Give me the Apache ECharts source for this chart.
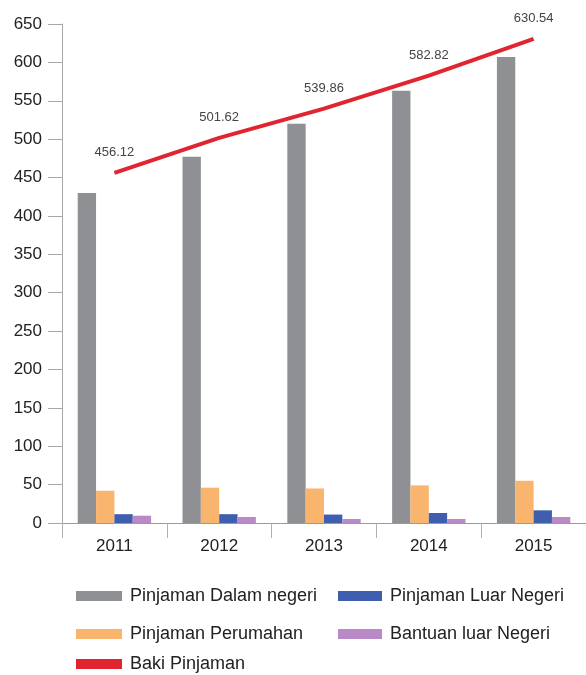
<!DOCTYPE html>
<html>
<head>
<meta charset="utf-8">
<script src="https://cdn.jsdelivr.net/npm/echarts@6/dist/echarts.min.js"></script>
<style>html,body{margin:0;padding:0;background:#fff}#c{width:586px;height:675px}</style>
</head>
<body>
<div id="c"></div>
<script>
var categories = ['2011', '2012', '2013', '2014', '2015'];
var dalamNegeri = [430, 477, 520, 563, 607];
var perumahan = [42, 46, 45, 49, 55];
var luarNegeri = [11.5, 11.5, 11, 13, 16.5];
var bantuan = [9.5, 7.8, 5.2, 5.2, 7.8];
var bakiPinjaman = [456.12, 501.62, 539.86, 582.82, 630.54];
var yTicks = [0, 650, 50];

var font = '"Liberation Sans", Arial, sans-serif';
var chart = echarts.init(document.getElementById('c'), null, {renderer: 'canvas'});
var barBase = {type: 'bar', barGap: '0%', barCategoryGap: '30%'};
function leg(name, left, top, w) {
  return {left: left, top: top, padding: 0, orient: 'horizontal', itemWidth: w, itemHeight: 10, itemGap: 0,
    textStyle: {fontSize: 18, color: '#222', fontFamily: font, padding: [0, 0, 0, 3]},
    data: [{name: name, icon: 'rect'}]};
}
chart.setOption({
  animation: false,
  textStyle: {fontFamily: font},
  grid: {left: 62, right: 0, top: 24, bottom: 152, containLabel: false},
  xAxis: {
    type: 'category', data: categories,
    axisLine: {lineStyle: {color: '#9a9a9a', width: 1}},
    axisTick: {show: true, length: 15, lineStyle: {color: '#b0b0b0'}},
    axisLabel: {color: '#222', fontSize: 17, margin: 15, fontFamily: font}
  },
  yAxis: {
    type: 'value', min: yTicks[0], max: yTicks[1], interval: yTicks[2],
    splitLine: {show: false},
    axisLine: {show: true, lineStyle: {color: '#a8a8a8', width: 1}},
    axisTick: {show: true, length: 14, lineStyle: {color: '#a8a8a8'}},
    axisLabel: {color: '#222', fontSize: 17, margin: 20, fontFamily: font}
  },
  legend: [
    leg('Pinjaman Dalam negeri', 76, 587, 46),
    leg('Pinjaman Perumahan', 76, 625, 46),
    leg('Baki Pinjaman', 76, 655, 46),
    leg('Pinjaman Luar Negeri', 338, 587, 44),
    leg('Bantuan luar Negeri', 338, 625, 44)
  ],
  series: [
    Object.assign({}, barBase, {name: 'Pinjaman Dalam negeri', data: dalamNegeri, itemStyle: {color: '#8f9093'}}),
    Object.assign({}, barBase, {name: 'Pinjaman Perumahan', data: perumahan, itemStyle: {color: '#f9b46e'}}),
    Object.assign({}, barBase, {name: 'Pinjaman Luar Negeri', data: luarNegeri, itemStyle: {color: '#3f5fae'}}),
    Object.assign({}, barBase, {name: 'Bantuan luar Negeri', data: bantuan, itemStyle: {color: '#b98ac6'}}),
    {type: 'line', name: 'Baki Pinjaman', data: bakiPinjaman, showSymbol: true, symbol: 'circle', symbolSize: 0,
     lineStyle: {color: '#e12530', width: 4}, itemStyle: {color: '#e12530'},
     label: {show: true, position: 'top', distance: 14, color: '#444', fontSize: 13, fontFamily: font,
       formatter: function(p){ return p.value.toFixed(2); }}}
  ]
});
</script>
</body>
</html>
